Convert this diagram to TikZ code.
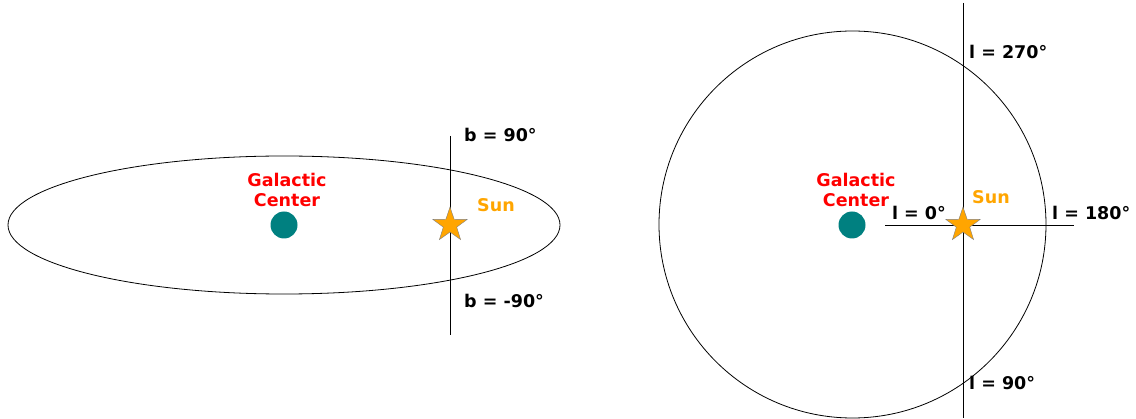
\documentclass[tikz,border=0pt]{standalone}
\usepackage{fontspec}
\setmainfont{DejaVu Sans}
\usetikzlibrary{shapes.geometric}
\definecolor{coreTeal}{HTML}{008080}
\definecolor{sunOrange}{HTML}{FFA500}
\definecolor{gcRed}{HTML}{FF0000}
\begin{document}
\begin{tikzpicture}[x=1pt, y=1pt,
          lbl/.style={inner sep=0pt, font=\fontsize{17.5}{19.5}\selectfont\bfseries, align=center},
          core/.style={circle, fill=coreTeal, minimum size=27pt, inner sep=0pt},
          sunstar/.style={star, star points=5, star point ratio=2.55, minimum size=36pt, inner sep=0pt, fill=sunOrange, draw=gray},
          axis/.style={draw=black, line width=0.9pt}]
        \useasboundingbox (0,0) rectangle (1136,418);
        % side view
        \draw[line width=0.8pt] (284,193) ellipse [x radius=276, y radius=69];
        \node[core] (gcL) at (284,193) {};
        \coordinate (bTop) at (450,282);
        \coordinate (bBot) at (450,83);
        \draw[axis] (bTop) -- (bBot);
        \node[sunstar] (sunL) at (450,193) {};
        \node[lbl, gcRed] (gcLlbl) at (287,228) {Galactic\\Center};
        \node[lbl, sunOrange, anchor=west] (sunLlbl) at (477,213) {Sun};
        \node[lbl, anchor=west] (bUp) at (464,283) {b = 90°};
        \node[lbl, anchor=west] (bDown) at (464,117) {b = -90°};
        % top view
        \draw[line width=0.8pt] (852.5,193.5) circle [radius=193.5];
        \node[core] (gcR) at (852,193) {};
        \coordinate (lTop) at (963,415);
        \coordinate (lBot) at (963,0);
        \coordinate (lLeft) at (885,193);
        \coordinate (lRight) at (1074,193);
        \draw[axis] (lTop) -- (lBot);
        \draw[axis] (lLeft) -- (lRight);
        \node[sunstar] (sunR) at (963,193) {};
        \node[lbl, gcRed] (gcRlbl) at (856,228) {Galactic\\Center};
        \node[lbl, sunOrange, anchor=west] (sunRlbl) at (972,221) {Sun};
        \node[lbl, anchor=west] (l270) at (969,366) {l = 270°};
        \node[lbl, anchor=west] (l90) at (969,35) {l = 90°};
        \node[lbl] (l0) at (919,205) {l = 0°};
        \node[lbl, anchor=west] (l180) at (1052,205) {l = 180°};
      \end{tikzpicture}
\end{document}
